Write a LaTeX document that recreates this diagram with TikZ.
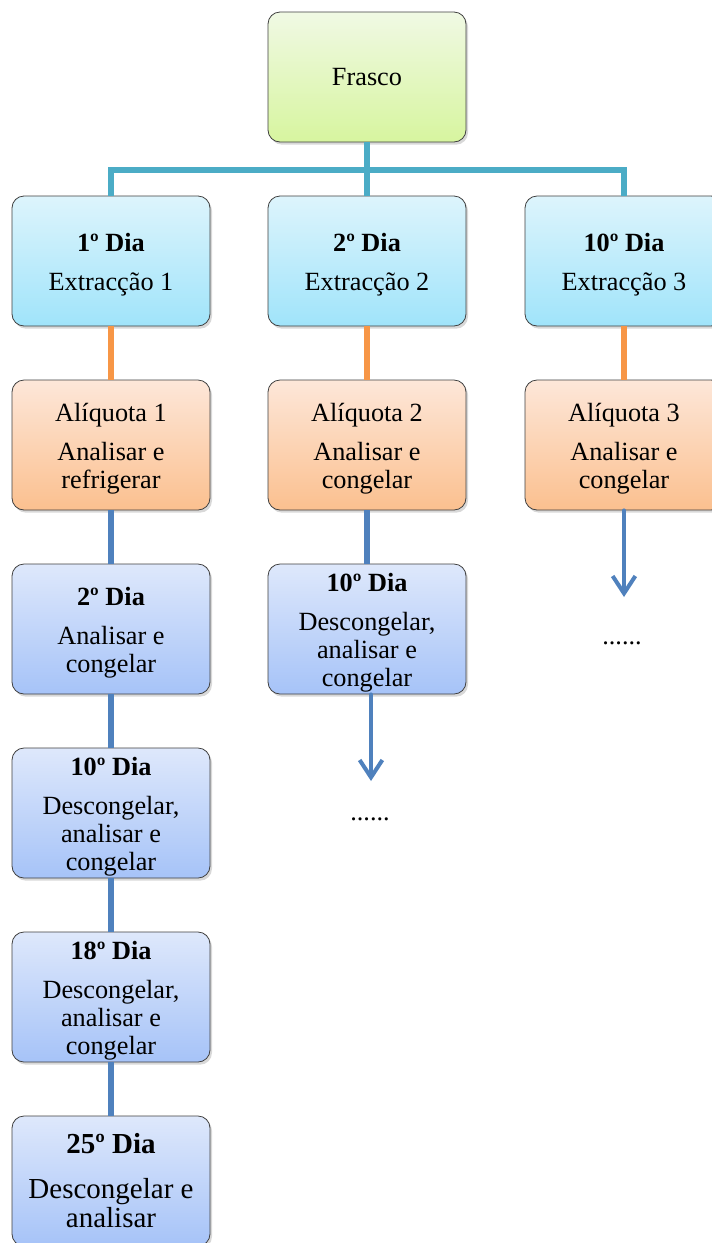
\documentclass[tikz,border=0pt]{standalone}
\usepackage{fontspec}
\setmainfont{Liberation Serif}
\usetikzlibrary{shadows,arrows.meta}
\definecolor{lnteal}{HTML}{4BACC6}
\definecolor{lnorange}{HTML}{F79646}
\definecolor{lnblue}{HTML}{4F81BD}
\definecolor{edge}{HTML}{404040}
\definecolor{gtop}{HTML}{F0F9E4}
\definecolor{gbot}{HTML}{D7F59F}
\definecolor{ctop}{HTML}{DDF4FC}
\definecolor{cbot}{HTML}{A0E4FA}
\definecolor{otop}{HTML}{FDE7D9}
\definecolor{obot}{HTML}{FBC08F}
\definecolor{btop}{HTML}{DEE8FB}
\definecolor{bbot}{HTML}{A6C3F8}
\tikzset{
  box/.style={draw=edge, line width=0.6pt, rounded corners=9pt,
    minimum width=148.5pt, minimum height=97.5pt, inner sep=0pt,
    align=center, text=black, font=\fontsize{19.7}{21}\selectfont,
    drop shadow={opacity=0.3, shadow xshift=1.5pt, shadow yshift=-2pt}},
  greenbox/.style={box, top color=gtop, bottom color=gbot},
  cyanbox/.style={box, top color=ctop, bottom color=cbot},
  orangebox/.style={box, top color=otop, bottom color=obot},
  bluebox/.style={box, top color=btop, bottom color=bbot},
  lbl/.style={align=center, text=black, inner sep=0pt,
    font=\fontsize{19.7}{21}\selectfont, yshift=-3pt},
  tealline/.style={draw=lnteal, line width=3.8pt},
  orangeline/.style={draw=lnorange, line width=3.8pt},
  blueline/.style={draw=lnblue, line width=3.8pt},
  bluearrow/.style={draw=lnblue, line width=3pt, line cap=round,
    -{Straight Barb[length=13pt,width=17pt,line width=3pt]}},
  dots/.style={font=\fontsize{19.7}{21}\selectfont, anchor=base, inner sep=0pt}
}
\begin{document}
\begin{tikzpicture}[x=0.75pt,y=-0.75pt]
\useasboundingbox (0,0) rectangle (712,1243);
\clip (0,0) rectangle (712,1243);
\fill[white] (0,0) rectangle (712,1243);

\node[greenbox] (frasco) at (367,77) {Frasco};

\node[cyanbox, label={[lbl]center:{\textbf{1º Dia}\\[8pt]Extracção 1}}] (d1) at (111,261) {};
\node[cyanbox, label={[lbl]center:{\textbf{2º Dia}\\[8pt]Extracção 2}}] (d2) at (367,261) {};
\node[cyanbox, label={[lbl]center:{\textbf{10º Dia}\\[8pt]Extracção 3}}] (d3) at (624,261) {};

\node[orangebox, label={[lbl]center:{Alíquota 1\\[8pt]Analisar e\\refrigerar}}] (a1) at (111,445) {};
\node[orangebox, label={[lbl]center:{Alíquota 2\\[8pt]Analisar e\\congelar}}] (a2) at (367,445) {};
\node[orangebox, label={[lbl]center:{Alíquota 3\\[8pt]Analisar e\\congelar}}] (a3) at (624,445) {};

\node[bluebox, label={[lbl]center:{\textbf{2º Dia}\\[8pt]Analisar e\\congelar}}] (b1) at (111,629) {};
\node[bluebox, label={[lbl]center:{\textbf{10º Dia}\\[8pt]Descongelar,\\analisar e\\congelar}}] (c2) at (367,629) {};
\node[bluebox, label={[lbl]center:{\textbf{10º Dia}\\[8pt]Descongelar,\\analisar e\\congelar}}] (b2) at (111,813) {};
\node[bluebox, label={[lbl]center:{\textbf{18º Dia}\\[8pt]Descongelar,\\analisar e\\congelar}}] (b3) at (111,997) {};
\node[bluebox, label={[lbl, yshift=3pt, font=\fontsize{21.75}{21.75}\selectfont]center:{\textbf{25º Dia}\\[12pt]Descongelar e\\analisar}}] (b4) at (111,1181) {};

\coordinate (hub) at (367,170);
\coordinate (e2) at (371,781);
\coordinate (e3) at (624,597);

\draw[tealline] (frasco.south) -- (d2.north);
\draw[tealline] (d1.north) |- (hub) -| (d3.north);

\draw[orangeline] (d1.south) -- (a1.north);
\draw[orangeline] (d2.south) -- (a2.north);
\draw[orangeline] (d3.south) -- (a3.north);

\draw[blueline] (a1.south) -- (b1.north);
\draw[blueline] (b1.south) -- (b2.north);
\draw[blueline] (b2.south) -- (b3.north);
\draw[blueline] (b3.south) -- (b4.north);
\draw[blueline] (a2.south) -- (c2.north);

\draw[bluearrow] (c2.south -| e2) -- (e2);
\draw[bluearrow] (a3.south) -- (e3);

\node[dots] (dots2) at (370,820) {......};
\node[dots] (dots3) at (622,644) {......};
\end{tikzpicture}
\end{document}
